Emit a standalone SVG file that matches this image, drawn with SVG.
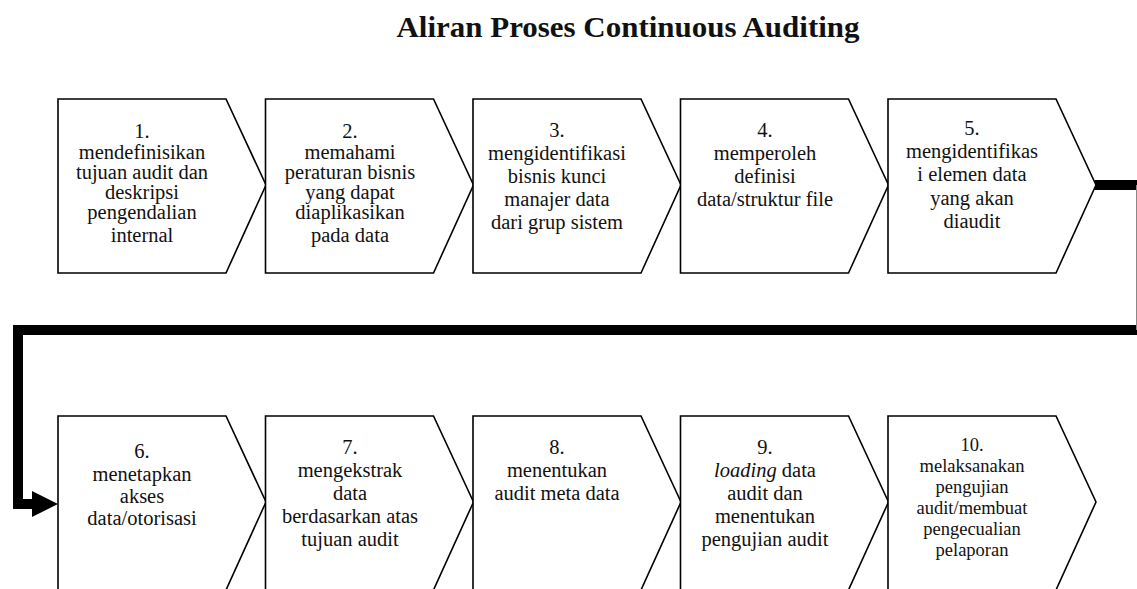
<svg xmlns="http://www.w3.org/2000/svg" width="1137" height="589" viewBox="0 0 1137 589">
<style>
.box{fill:#fff;stroke:#000;stroke-width:1.6;stroke-linejoin:miter}
.line{fill:none;stroke:#000;stroke-width:10;stroke-linejoin:miter;stroke-linecap:butt}
</style>
<defs>
<polygon id="chev" points="0,0 168,0 208,86 168,174 0,174"/>
</defs>
<rect width="1137" height="589" fill="#fff"/>
<text x="628" y="37" font-family="'Liberation Serif', serif" font-size="29" font-weight="bold" fill="#111" text-anchor="middle" textLength="463" lengthAdjust="spacingAndGlyphs">Aliran Proses Continuous Auditing</text>
<g id="connectors">
<path class="line" d="M1095,185 H1142 V330 H18 V504 H34" />
<line x1="1136.5" y1="185" x2="1136.5" y2="330" stroke="#888" stroke-width="1"/>
<polygon points="32,491 58,504 32,517" fill="#000"/>
</g>
<g font-family="'Liberation Serif', serif" font-size="20.5" fill="#111" text-anchor="middle">
<g id="n1"><use href="#chev" class="box" x="58" y="99"/>
<text><tspan x="142" y="138">1.</tspan><tspan x="142" y="159">mendefinisikan</tspan><tspan x="142" y="179">tujuan audit dan</tspan><tspan x="142" y="199">deskripsi</tspan><tspan x="142" y="219">pengendalian</tspan><tspan x="142" y="242">internal</tspan></text></g>
<g id="n2"><use href="#chev" class="box" x="265.5" y="99"/>
<text><tspan x="350" y="138">2.</tspan><tspan x="350" y="159">memahami</tspan><tspan x="350" y="179">peraturan bisnis</tspan><tspan x="350" y="199">yang dapat</tspan><tspan x="350" y="219">diaplikasikan</tspan><tspan x="350" y="242">pada data</tspan></text></g>
<g id="n3"><use href="#chev" class="box" x="473" y="99"/>
<text><tspan x="557" y="137">3.</tspan><tspan x="557" y="160">mengidentifikasi</tspan><tspan x="557" y="183">bisnis kunci</tspan><tspan x="557" y="206">manajer data</tspan><tspan x="557" y="229">dari grup sistem</tspan></text></g>
<g id="n4"><use href="#chev" class="box" x="680.5" y="99"/>
<text><tspan x="765" y="137">4.</tspan><tspan x="765" y="160">memperoleh</tspan><tspan x="765" y="183">definisi</tspan><tspan x="765" y="206">data/struktur file</tspan></text></g>
<g id="n5"><use href="#chev" class="box" x="888" y="99"/>
<text><tspan x="972" y="135">5.</tspan><tspan x="972" y="158">mengidentifikas</tspan><tspan x="972" y="181">i elemen data</tspan><tspan x="972" y="205">yang akan</tspan><tspan x="972" y="228">diaudit</tspan></text></g>
<g id="n6"><use href="#chev" class="box" x="58" y="416"/>
<text><tspan x="142" y="458">6.</tspan><tspan x="142" y="481">menetapkan</tspan><tspan x="142" y="503">akses</tspan><tspan x="142" y="525">data/otorisasi</tspan></text></g>
<g id="n7"><use href="#chev" class="box" x="265.5" y="416"/>
<text><tspan x="350" y="454">7.</tspan><tspan x="350" y="477">mengekstrak</tspan><tspan x="350" y="500">data</tspan><tspan x="350" y="523">berdasarkan atas</tspan><tspan x="350" y="546">tujuan audit</tspan></text></g>
<g id="n8"><use href="#chev" class="box" x="473" y="416"/>
<text><tspan x="557" y="454">8.</tspan><tspan x="557" y="477">menentukan</tspan><tspan x="557" y="500">audit meta data</tspan></text></g>
<g id="n9"><use href="#chev" class="box" x="680.5" y="416"/>
<text><tspan x="765" y="454">9.</tspan><tspan x="765" y="477"><tspan font-style="italic">loading</tspan> data</tspan><tspan x="765" y="500">audit dan</tspan><tspan x="765" y="523">menentukan</tspan><tspan x="765" y="546">pengujian audit</tspan></text></g>
<g id="n10"><use href="#chev" class="box" x="888" y="416"/>
<text font-size="18.5"><tspan x="972" y="451">10.</tspan><tspan x="972" y="472">melaksanakan</tspan><tspan x="972" y="493">pengujian</tspan><tspan x="972" y="514">audit/membuat</tspan><tspan x="972" y="535">pengecualian</tspan><tspan x="972" y="556">pelaporan</tspan></text></g>
</g>
</svg>
